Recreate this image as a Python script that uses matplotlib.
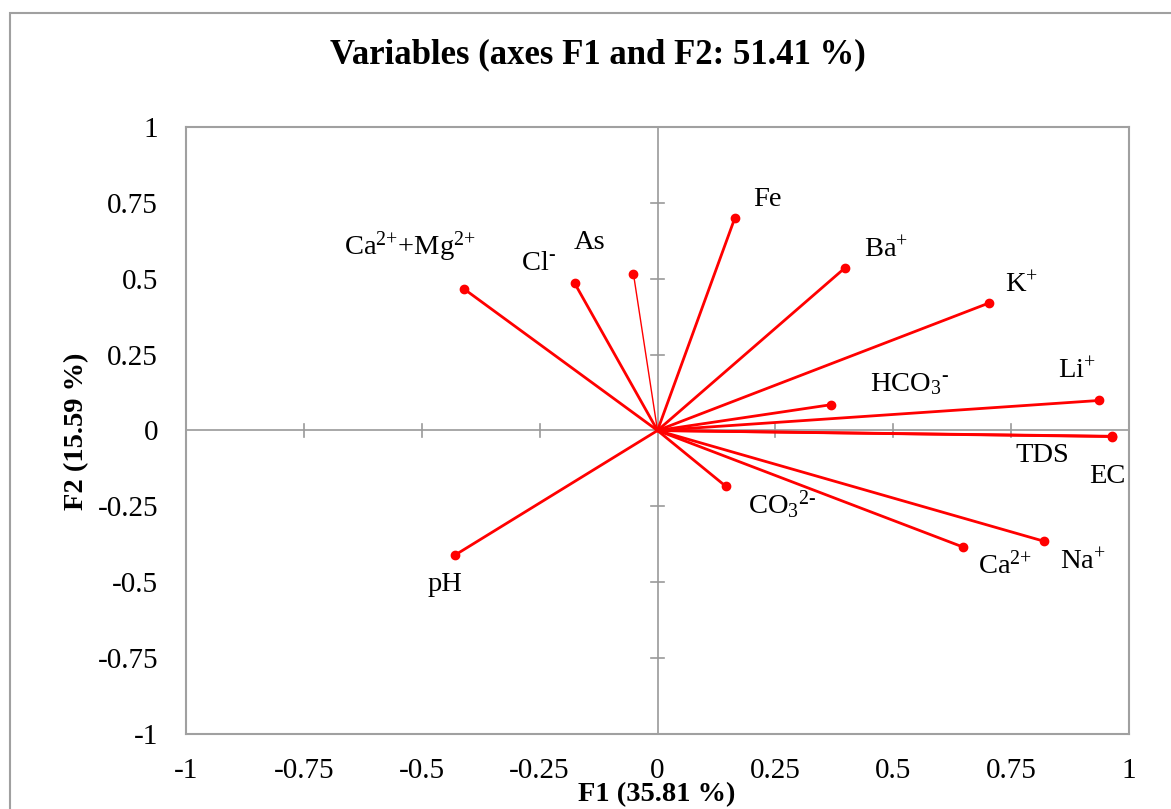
import matplotlib
matplotlib.use("Agg")
import matplotlib.pyplot as plt

plt.rcParams['font.family'] = ['Liberation Serif', 'DejaVu Serif']
plt.rcParams['mathtext.fontset'] = 'custom'
plt.rcParams['mathtext.rm'] = 'Liberation Serif'
plt.rcParams['mathtext.it'] = 'Liberation Serif:italic'
plt.rcParams['mathtext.bf'] = 'Liberation Serif:bold'

variables = ['Fe', 'Ba', 'K', 'Li', 'HCO3', 'TDS', 'EC', 'CO3', 'Ca', 'Na', 'pH', 'CaMg', 'Cl', 'As']
labels = ['Fe', r'Ba$^{\text{+}}$', r'K$^{\text{+}}$', r'Li$^{\text{+}}$',
          r'HCO$_{\text{3}}$$^{\text{-}}$', 'TDS', 'EC',
          r'CO$_{\text{3}}$$^{\text{2-}}$', r'Ca$^{\text{2+}}$', r'Na$^{\text{+}}$', 'pH',
          r'Ca$^{\text{2+}}$+Mg$^{\text{2+}}$', r'Cl$^{\text{-}}$', 'As']
f1 = [0.164, 0.397, 0.703, 0.937, 0.368, 0.963, 0.965, 0.145, 0.648, 0.820, -0.429, -0.410, -0.176, -0.051]
f2 = [0.700, 0.535, 0.420, 0.099, 0.085, -0.019, -0.020, -0.184, -0.384, -0.365, -0.410, 0.466, 0.486, 0.516]
# label anchor positions (data units)
lab_x = [0.234, 0.485, 0.772, 0.889, 0.534, 0.816, 0.955, 0.265, 0.738, 0.903, -0.450, -0.525, -0.252, -0.144]
lab_y = [0.760, 0.595, 0.478, 0.195, 0.152, -0.082, -0.151, -0.245, -0.445, -0.435, -0.508, 0.604, 0.550, 0.620]
widths = [2, 2, 2, 2, 2, 2, 2, 2, 2, 2, 2, 2, 2, 1]

ticks = [-1, -0.75, -0.5, -0.25, 0, 0.25, 0.5, 0.75, 1]
ticklabels = ['-1', '-0.75', '-0.5', '-0.25', '0', '0.25', '0.5', '0.75', '1']

W, H = 1171, 809
fig = plt.figure(figsize=(W / 100, H / 100), dpi=100)
fig.patches.append(plt.Rectangle((10 / W, -0.2), 1.2, 1.2 - 13 / H,
                                 transform=fig.transFigure, fill=False,
                                 edgecolor='#a0a0a0', linewidth=1.5))
ax = fig.add_axes([186 / W, 1 - 734 / H, (1129 - 186) / W, (734 - 127) / H])
ax.set_xlim(-1, 1)
ax.set_ylim(-1, 1)
for s in ax.spines.values():
    s.set_color('#a0a0a0')
    s.set_linewidth(1.5)

gray = '#9a9a9a'
ax.axhline(0, color=gray, lw=1.2, zorder=1)
ax.axvline(0, color=gray, lw=1.2, zorder=1)
for t in ticks:
    if t in (-1, 0, 1):
        continue
    ax.plot([t, t], [-0.022, 0.022], color=gray, lw=1.2, zorder=1)
    ax.plot([-0.014, 0.014], [t, t], color=gray, lw=1.2, zorder=1)

for x, y, lw in zip(f1, f2, widths):
    ax.plot([0, x], [0, y], color='#ff0000', lw=lw, zorder=2)
    ax.plot([x], [y], 'o', color='#ff0000', ms=6, zorder=3)

for lab, x, y in zip(labels, lab_x, lab_y):
    ax.text(x, y, lab, fontsize=20.5, ha='center', va='center', color='black')

ax.set_xticks(ticks)
ax.set_xticklabels(ticklabels, fontsize=21)
ax.set_yticks(ticks)
ax.set_yticklabels(ticklabels, fontsize=21)
ax.tick_params(axis='x', length=0, pad=17)
ax.tick_params(axis='y', length=0, pad=20)
fig.text(657 / W, 1 - 795 / H, 'F1 (35.81 %)', fontsize=20.5, fontweight='bold',
         ha='center', va='center')
fig.text(77 / W, 1 - 431 / H, 'F2 (15.59 %)', fontsize=20.5, fontweight='bold',
         ha='center', va='center', rotation=90)
fig.text(598 / W, 1 - 55 / H, 'Variables (axes F1 and F2: 51.41 %)', fontsize=25,
         fontweight='bold', ha='center', va='center')

fig.savefig('out.png', dpi=100)
